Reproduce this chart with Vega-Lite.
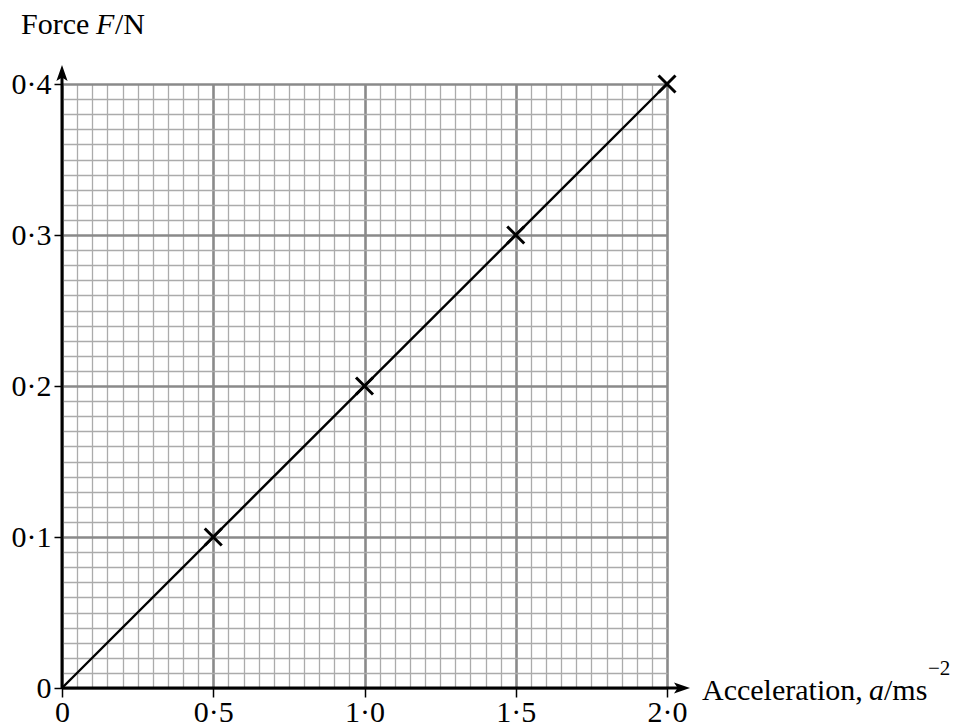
{
  "$schema": "https://vega.github.io/schema/vega-lite/v6.json",
  "width": 605,
  "height": 604,
  "autosize": {"type": "none"},
  "padding": {"left": 62, "top": 84, "right": 291, "bottom": 38},
  "background": "white",
  "data": {"values": [{}]},
  "config": {
    "view": {"stroke": null},
    "font": "Liberation Serif",
    "axis": {
      "labelFont": "Liberation Serif",
      "labelFontSize": 30,
      "labelColor": "black",
      "labelOverlap": false,
      "labelBound": false,
      "labelFlush": false,
      "domain": false
    }
  },
  "datasets": {
    "points": [
      {"a": 0.5, "F": 0.1},
      {"a": 1.0, "F": 0.2},
      {"a": 1.5, "F": 0.3},
      {"a": 2.0, "F": 0.4}
    ],
    "fit": [
      {"a": 0, "F": 0},
      {"a": 2.0, "F": 0.4}
    ]
  },
  "encoding": {
    "x": {
      "type": "quantitative",
      "scale": {"domain": [0, 2], "nice": false, "zero": true},
      "axis": {
        "title": null,
        "values": [0,0.05,0.1,0.15,0.2,0.25,0.3,0.35,0.4,0.45,0.5,0.55,0.6,0.65,0.7,0.75,0.8,0.85,0.9,0.95,1,1.05,1.1,1.15,1.2,1.25,1.3,1.35,1.4,1.45,1.5,1.55,1.6,1.65,1.7,1.75,1.8,1.85,1.9,1.95,2],
        "grid": true,
        "gridColor": {"condition": {"test": "abs(datum.value*2 - round(datum.value*2)) < 1e-6", "value": "#8a8a8a"}, "value": "#ababab"},
        "gridWidth": {"condition": {"test": "abs(datum.value*2 - round(datum.value*2)) < 1e-6", "value": 2.6}, "value": 1.3},
        "tickColor": {"condition": {"test": "abs(datum.value*2 - round(datum.value*2)) < 1e-6", "value": "black"}, "value": "rgba(0,0,0,0)"},
        "tickSize": 9,
        "tickWidth": 1.5,
        "labelFont": "Liberation Serif",
        "labelFontSize": 30,
        "labelPadding": 0,
        "labelExpr": "datum.value == 0 ? '0' : (abs(datum.value*2 - round(datum.value*2)) < 1e-6 ? replace(format(datum.value, '.1f'), '.', '·') : '')"
      }
    },
    "y": {
      "type": "quantitative",
      "scale": {"domain": [0, 0.4], "nice": false, "zero": true},
      "axis": {
        "title": null,
        "values": [0,0.01,0.02,0.03,0.04,0.05,0.06,0.07,0.08,0.09,0.1,0.11,0.12,0.13,0.14,0.15,0.16,0.17,0.18,0.19,0.2,0.21,0.22,0.23,0.24,0.25,0.26,0.27,0.28,0.29,0.3,0.31,0.32,0.33,0.34,0.35,0.36,0.37,0.38,0.39,0.4],
        "grid": true,
        "gridColor": {"condition": {"test": "abs(datum.value*10 - round(datum.value*10)) < 1e-6", "value": "#8a8a8a"}, "value": "#ababab"},
        "gridWidth": {"condition": {"test": "abs(datum.value*10 - round(datum.value*10)) < 1e-6", "value": 2.6}, "value": 1.3},
        "tickColor": {"condition": {"test": "abs(datum.value*10 - round(datum.value*10)) < 1e-6", "value": "black"}, "value": "rgba(0,0,0,0)"},
        "tickSize": 8,
        "tickWidth": 1.5,
        "labelFont": "Liberation Serif",
        "labelFontSize": 30,
        "labelPadding": 3,
        "labelExpr": "datum.value == 0 ? '0' : (abs(datum.value*10 - round(datum.value*10)) < 1e-6 ? replace(format(datum.value, '.1f'), '.', '·') : '')"
      }
    }
  },
  "layer": [
    {
      "data": {"name": "fit"},
      "mark": {"type": "line", "color": "black", "strokeWidth": 2.4},
      "encoding": {
        "x": {"field": "a"},
        "y": {"field": "F"}
      }
    },
    {
      "data": {"name": "points"},
      "mark": {"type": "point", "shape": "M -1 -1 L 1 1 M -1 1 L 1 -1", "filled": false, "stroke": "black", "strokeWidth": 3, "size": 289, "opacity": 1},
      "encoding": {
        "x": {"field": "a"},
        "y": {"field": "F"}
      }
    },
    {
      "mark": {"type": "rule", "color": "black", "strokeWidth": 3},
      "encoding": {
        "x": {"datum": 0},
        "x2": {"datum": 2.045},
        "y": {"datum": 0}
      }
    },
    {
      "mark": {"type": "rule", "color": "black", "strokeWidth": 3},
      "encoding": {
        "x": {"datum": 0},
        "y": {"datum": 0},
        "y2": {"datum": 0.406}
      }
    },
    {
      "mark": {"type": "point", "shape": "M -1 -0.7 L 1 0 L -1 0.7 L -0.55 0 Z", "filled": true, "color": "black", "size": 256, "opacity": 1},
      "encoding": {
        "x": {"datum": 2.0496},
        "y": {"datum": 0}
      }
    },
    {
      "mark": {"type": "point", "shape": "M -0.7 1 L 0 -1 L 0.7 1 L 0 0.55 Z", "filled": true, "color": "black", "size": 256, "opacity": 1},
      "encoding": {
        "x": {"datum": 0},
        "y": {"datum": 0.4073}
      }
    },
    {
      "mark": {"type": "text", "text": "Force", "align": "left", "baseline": "alphabetic", "dx": -41, "dy": -50, "font": "Liberation Serif", "fontSize": 30, "color": "black"},
      "encoding": {
        "x": {"datum": 0},
        "y": {"datum": 0.4}
      }
    },
    {
      "mark": {"type": "text", "text": "F", "align": "left", "baseline": "alphabetic", "dx": 34, "dy": -50, "font": "Liberation Serif", "fontStyle": "italic", "fontSize": 30, "color": "black"},
      "encoding": {
        "x": {"datum": 0},
        "y": {"datum": 0.4}
      }
    },
    {
      "mark": {"type": "text", "text": "/N", "align": "left", "baseline": "alphabetic", "dx": 53, "dy": -50, "font": "Liberation Serif", "fontSize": 30, "color": "black"},
      "encoding": {
        "x": {"datum": 0},
        "y": {"datum": 0.4}
      }
    },
    {
      "mark": {"type": "text", "text": "Acceleration,", "align": "left", "baseline": "alphabetic", "dx": 35, "dy": 12, "font": "Liberation Serif", "fontSize": 30, "color": "black"},
      "encoding": {
        "x": {"datum": 2},
        "y": {"datum": 0}
      }
    },
    {
      "mark": {"type": "text", "text": "a", "align": "left", "baseline": "alphabetic", "dx": 202, "dy": 12, "font": "Liberation Serif", "fontStyle": "italic", "fontSize": 30, "color": "black"},
      "encoding": {
        "x": {"datum": 2},
        "y": {"datum": 0}
      }
    },
    {
      "mark": {"type": "text", "text": "/ms", "align": "left", "baseline": "alphabetic", "dx": 217, "dy": 12, "font": "Liberation Serif", "fontSize": 30, "color": "black"},
      "encoding": {
        "x": {"datum": 2},
        "y": {"datum": 0}
      }
    },
    {
      "mark": {"type": "text", "text": "−2", "align": "left", "baseline": "alphabetic", "dx": 261, "dy": -13, "font": "Liberation Serif", "fontSize": 21, "color": "black"},
      "encoding": {
        "x": {"datum": 2},
        "y": {"datum": 0}
      }
    }
  ]
}
